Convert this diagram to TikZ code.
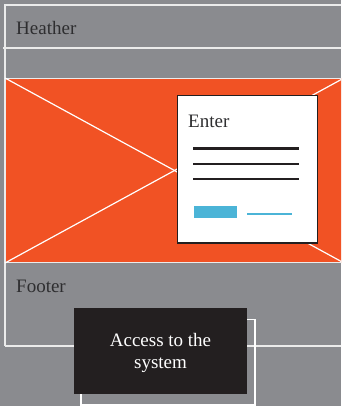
\documentclass[tikz,border=0pt]{standalone}
\usepackage{fontspec}
\setmainfont{Liberation Serif}
\definecolor{bg}{HTML}{8A8B8F}
\definecolor{orng}{HTML}{F15224}
\definecolor{ink}{HTML}{231F20}
\definecolor{sky}{HTML}{4BB4D7}
\definecolor{lbl}{HTML}{2E2E30}
\tikzset{
  frameline/.style={draw=white!92!black, line width=1.2pt},
  xline/.style={draw=white, line width=1.2pt},
  lbltext/.style={text=lbl, font=\fontsize{19}{22}\selectfont, inner sep=0pt, anchor=base west},
  bar/.style={draw=ink, line width=2.4pt},
}
\begin{document}
\begin{tikzpicture}[x=1pt,y=-1pt]
\useasboundingbox (0,0) rectangle (341,406);
\clip (0,0) rectangle (341,406);
\fill[bg] (0,0) rectangle (341,406);
% page frame
\draw[frameline] (5,346) -- (5,5) -- (350,5);
\draw[frameline] (3,48) -- (350,48);
\draw[frameline] (5,346) -- (350,346);
\node[lbltext] (header) at (16,35) {Heather};
% image placeholder
\node[fill=orng, draw=white!92!black, line width=1pt, minimum width=338pt, minimum height=184pt, inner sep=0pt, anchor=north west] (img) at (5,78) {};
\draw[xline] (img.north west) -- (img.south east);
\draw[xline] (img.south west) -- (img.north east);
\node[lbltext] (footer) at (16,292.5) {Footer};
% login popup
\node[fill=white, draw=ink, line width=1.5pt, minimum width=140pt, minimum height=147pt, inner sep=0pt, anchor=north west] (popup) at (176.7,95) {};
\node[lbltext] (enter) at (188,127.7) {Enter};
\draw[bar] (193.3,148.3) -- (299.3,148.3);
\draw[bar] (193.3,163.7) -- (299.3,163.7);
\draw[bar] (193.3,178.7) -- (299.3,178.7);
\node[fill=sky, minimum width=43pt, minimum height=11.7pt, inner sep=0pt, anchor=north west] (btn) at (193.3,206) {};
\draw[draw=sky, line width=2.2pt] (247,214.3) -- (292,214.3);
% access button
\node[draw=white, line width=1.5pt, minimum width=174pt, minimum height=85.6pt, inner sep=0pt, anchor=north west] (shadow) at (80,318.7) {};
\node[fill=ink, minimum width=173pt, minimum height=85.7pt, inner sep=0pt, anchor=north west] (access) at (74,308) {};
\node[text=white, align=center, font=\fontsize{19}{22}\selectfont, inner sep=0pt] (accesstext) at (160.5,352.5) {Access to the\\system};
\end{tikzpicture}
\end{document}
